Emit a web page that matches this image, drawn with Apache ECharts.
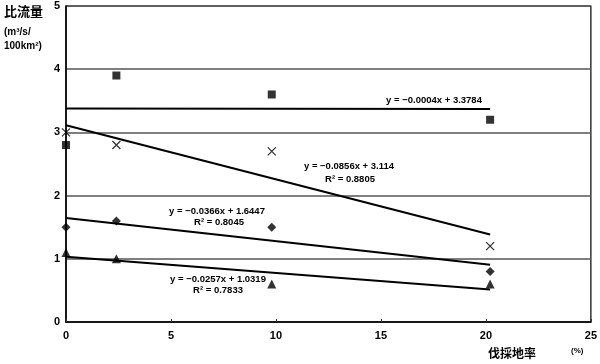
<!DOCTYPE html>
<html><head><meta charset="utf-8">
<script src="https://cdn.jsdelivr.net/npm/echarts@6/dist/echarts.min.js"></script>
<style>html,body{margin:0;padding:0;background:#fff}#c{width:600px;height:364px}</style>
</head><body><div id="c"></div>
<script>
// ---- data ----
const xRates = [0, 2.4, 9.8, 20.2];            // 伐採地率 (%)
const squares = [2.8, 3.9, 3.6, 3.2];
const crosses = [3.0, 2.8, 2.7, 1.2];
const diamonds = [1.5, 1.6, 1.5, 0.8];
const triangles = [1.1, 1.0, 0.6, 0.6];
const trendSlopes = [-0.0004, -0.0856, -0.0366, -0.0257];
const trendIntercepts = [3.3784, 3.114, 1.6447, 1.0319];
const xTicks = [0, 5, 10, 15, 20, 25];
const yTicks = [0, 1, 2, 3, 4, 5];
const eqLabels = ['y = −0.0004x + 3.3784', 'y = −0.0856x + 3.114', 'y = −0.0366x + 1.6447', 'y = −0.0257x + 1.0319'];
const r2Labels = ['', 'R² = 0.8805', 'R² = 0.8045', 'R² = 0.7833'];

const pts = arr => xRates.map((x, i) => [x, arr[i]]);
const trend = k => {
  const x0 = xRates[0], x1 = xRates[xRates.length - 1];
  return [[x0, trendIntercepts[k] + trendSlopes[k] * x0], [x1, trendIntercepts[k] + trendSlopes[k] * x1]];
};

const NUMF = '"Liberation Sans", Arial, sans-serif';
const CJKF = '"Noto Sans CJK JP", sans-serif';
const chart = echarts.init(document.getElementById('c'), null, {renderer: 'canvas'});

const sc = (name, data, symbol, size, style) => ({
  type: 'scatter', name, data, symbol, symbolSize: size, z: 5,
  itemStyle: style || {color: '#000'}
});
const ln = k => ({
  type: 'line', data: trend(k), symbol: 'none', z: 4,
  lineStyle: {color: '#000', width: 2}, silent: true
});

const txt = (x, y, s) => ({
  type: 'text', x, y, style: {text: s, font: 'bold 9.5px ' + NUMF, fill: '#000', align: 'center', verticalAlign: 'middle'}
});

chart.setOption({
  animation: false,
  grid: {left: 66, right: 8, top: 6, bottom: 42, show: true, borderColor: '#000', borderWidth: 1.2},
  xAxis: {
    type: 'value', min: 0, max: 25, interval: 5,
    axisLine: {show: true, lineStyle: {color: '#000', width: 1.5}},
    axisTick: {show: true, inside: true, length: 3, lineStyle: {color: '#333'}},
    splitLine: {show: false},
    axisLabel: {color: '#000', fontFamily: NUMF, fontWeight: 'bold', fontSize: 11, margin: 8,
      formatter: v => xTicks.includes(v) ? String(v) : ''}
  },
  yAxis: {
    type: 'value', min: 0, max: 5, interval: 1,
    axisLine: {show: true, lineStyle: {color: '#000', width: 1.5}},
    axisTick: {show: false},
    splitLine: {show: true, lineStyle: {color: '#555', width: 1.5}},
    axisLabel: {color: '#000', fontFamily: NUMF, fontWeight: 'bold', fontSize: 11, margin: 6,
      formatter: v => yTicks.includes(v) ? String(v) : ''}
  },
  series: [
    ln(0), ln(1), ln(2), ln(3),
    sc('squares', pts(squares), 'rect', 8),
    sc('crosses', pts(crosses), 'path://M0,0L10,10M10,0L0,10', 8,
       {color: 'rgba(0,0,0,0)', borderColor: '#000', borderWidth: 1.3}),
    sc('diamonds', pts(diamonds), 'diamond', 9),
    sc('triangles', pts(triangles), 'triangle', 9)
  ],
  graphic: [
    {type: 'text', x: 4, y: 5, style: {text: '比流量', font: 'bold 13px ' + CJKF, fill: '#000'}},
    {type: 'text', x: 4, y: 27, style: {text: '(m³/s/', font: 'bold 10px ' + NUMF, fill: '#000'}},
    {type: 'text', x: 4, y: 41, style: {text: '100km²)', font: 'bold 10px ' + NUMF, fill: '#000'}},
    {type: 'text', x: 488, y: 347, style: {text: '伐採地率', font: 'bold 12px ' + CJKF, fill: '#000'}},
    {type: 'text', x: 571, y: 347, style: {text: '(%)', font: 'bold 8px ' + NUMF, fill: '#000'}},
    txt(434, 100, eqLabels[0]),
    txt(349, 166, eqLabels[1]),
    txt(350, 179, r2Labels[1]),
    txt(217, 211, eqLabels[2]),
    txt(219, 222, r2Labels[2]),
    txt(218, 279, eqLabels[3]),
    txt(218, 290, r2Labels[3])
  ]
});
</script></body></html>
